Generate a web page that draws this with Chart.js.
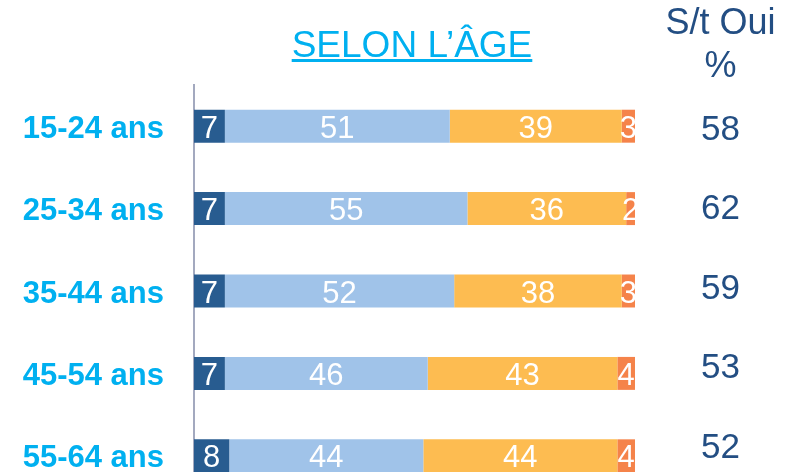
<!DOCTYPE html>
<html>
<head>
<meta charset="utf-8">
<script src="https://cdn.jsdelivr.net/npm/chart.js@4.4.1/dist/chart.umd.min.js"></script>
<style>
  html, body { margin:0; padding:0; background:#fff; overflow:hidden; width:791px; height:472px; }
  #wrap { position:absolute; left:0; top:0; width:791px; height:500px; }
  #title { position:absolute; left:212px; top:27px; width:400px; text-align:center;
    font-family:"Liberation Sans", Arial, sans-serif; font-size:37px; line-height:36px; color:#00B0F0;
    text-decoration:underline; text-decoration-thickness:2.5px; white-space:nowrap; }
  #hdr { position:absolute; left:650px; top:0px; width:141px; text-align:center;
    font-family:"Liberation Sans", Arial, sans-serif; font-size:36px; line-height:43px; color:#234E83; }
</style>
</head>
<body>
<div id="wrap"><canvas id="c"></canvas></div>
<div id="title">SELON L’ÂGE</div>
<div id="hdr">S/t Oui<br>%</div>
<script>
const categories = ["15-24 ans", "25-34 ans", "35-44 ans", "45-54 ans", "55-64 ans"];
const seriesA = [7, 7, 7, 7, 8];
const seriesB = [51, 55, 52, 46, 44];
const seriesC = [39, 36, 38, 43, 44];
const seriesD = [3, 2, 3, 4, 4];
const stOui = [58, 62, 59, 53, 52];

const FONT = '"Liberation Sans", Arial, sans-serif';
const R_MIN = -0.534, R_MAX = 4.655;

const segLabels = {
  id: 'segLabels',
  afterDatasetsDraw(chart) {
    const ctx = chart.ctx, a = chart.chartArea;
    ctx.save();
    ctx.beginPath();
    ctx.rect(a.left, a.top, a.right - a.left, a.bottom - a.top);
    ctx.clip();
    ctx.fillStyle = '#ffffff';
    ctx.font = '31px ' + FONT;
    ctx.textAlign = 'center';
    ctx.textBaseline = 'middle';
    chart.data.datasets.forEach((ds, di) => {
      const meta = chart.getDatasetMeta(di);
      meta.data.forEach((el, i) => {
        const p = el.getProps(['x', 'base', 'y'], true);
        ctx.fillText(String(ds.data[i]), (p.x + p.base) / 2, p.y + 3);
      });
    });
    ctx.restore();
  }
};

new Chart(document.getElementById('c'), {
  type: 'bar',
  data: {
    labels: categories,
    datasets: [
      { data: seriesA, backgroundColor: '#285C90' },
      { data: seriesB, backgroundColor: '#A0C3E9' },
      { data: seriesC, backgroundColor: '#FDBC51' },
      { data: seriesD, backgroundColor: '#F5834A' }
    ]
  },
  options: {
    indexAxis: 'y',
    responsive: true,
    maintainAspectRatio: false,
    animation: false,
    events: [],
    layout: { padding: { top: 85, bottom: 3, left: 0, right: 0 } },
    datasets: { bar: { categoryPercentage: 1, barPercentage: 0.4, borderWidth: 0 } },
    plugins: { legend: { display: false }, tooltip: { enabled: false }, title: { display: false } },
    scales: {
      x: { stacked: true, display: false, min: 0, max: 100 },
      y: {
        stacked: true,
        position: 'left',
        grid: { display: false },
        border: { display: true, color: '#A3A9BF', width: 2 },
        ticks: { color: '#00B0F0', font: { family: FONT, size: 31, weight: 'bold' }, padding: 22, labelOffset: 3 },
        afterFit(s) { s.width = 194; s.paddingTop = 0; s.paddingBottom = 0; }
      },
      yR: {
        type: 'linear',
        position: 'right',
        reverse: true,
        offset: false,
        bounds: 'data',
        min: R_MIN,
        max: R_MAX,
        grid: { display: false, offset: false },
        border: { display: false },
        afterBuildTicks(s) {
          s.ticks = stOui.map((_, i) => ({ value: i }));
          s.min = R_MIN; s.max = R_MAX;
        },
        ticks: {
          color: '#234E83',
          font: { family: FONT, size: 35 },
          padding: 58,
          labelOffset: 3,
          crossAlign: 'near',
          callback: (v) => String(stOui[v])
        },
        afterFit(s) { s.width = 156; s.paddingTop = 0; s.paddingBottom = 0; }
      }
    }
  },
  plugins: [segLabels]
});
</script>
</body>
</html>
